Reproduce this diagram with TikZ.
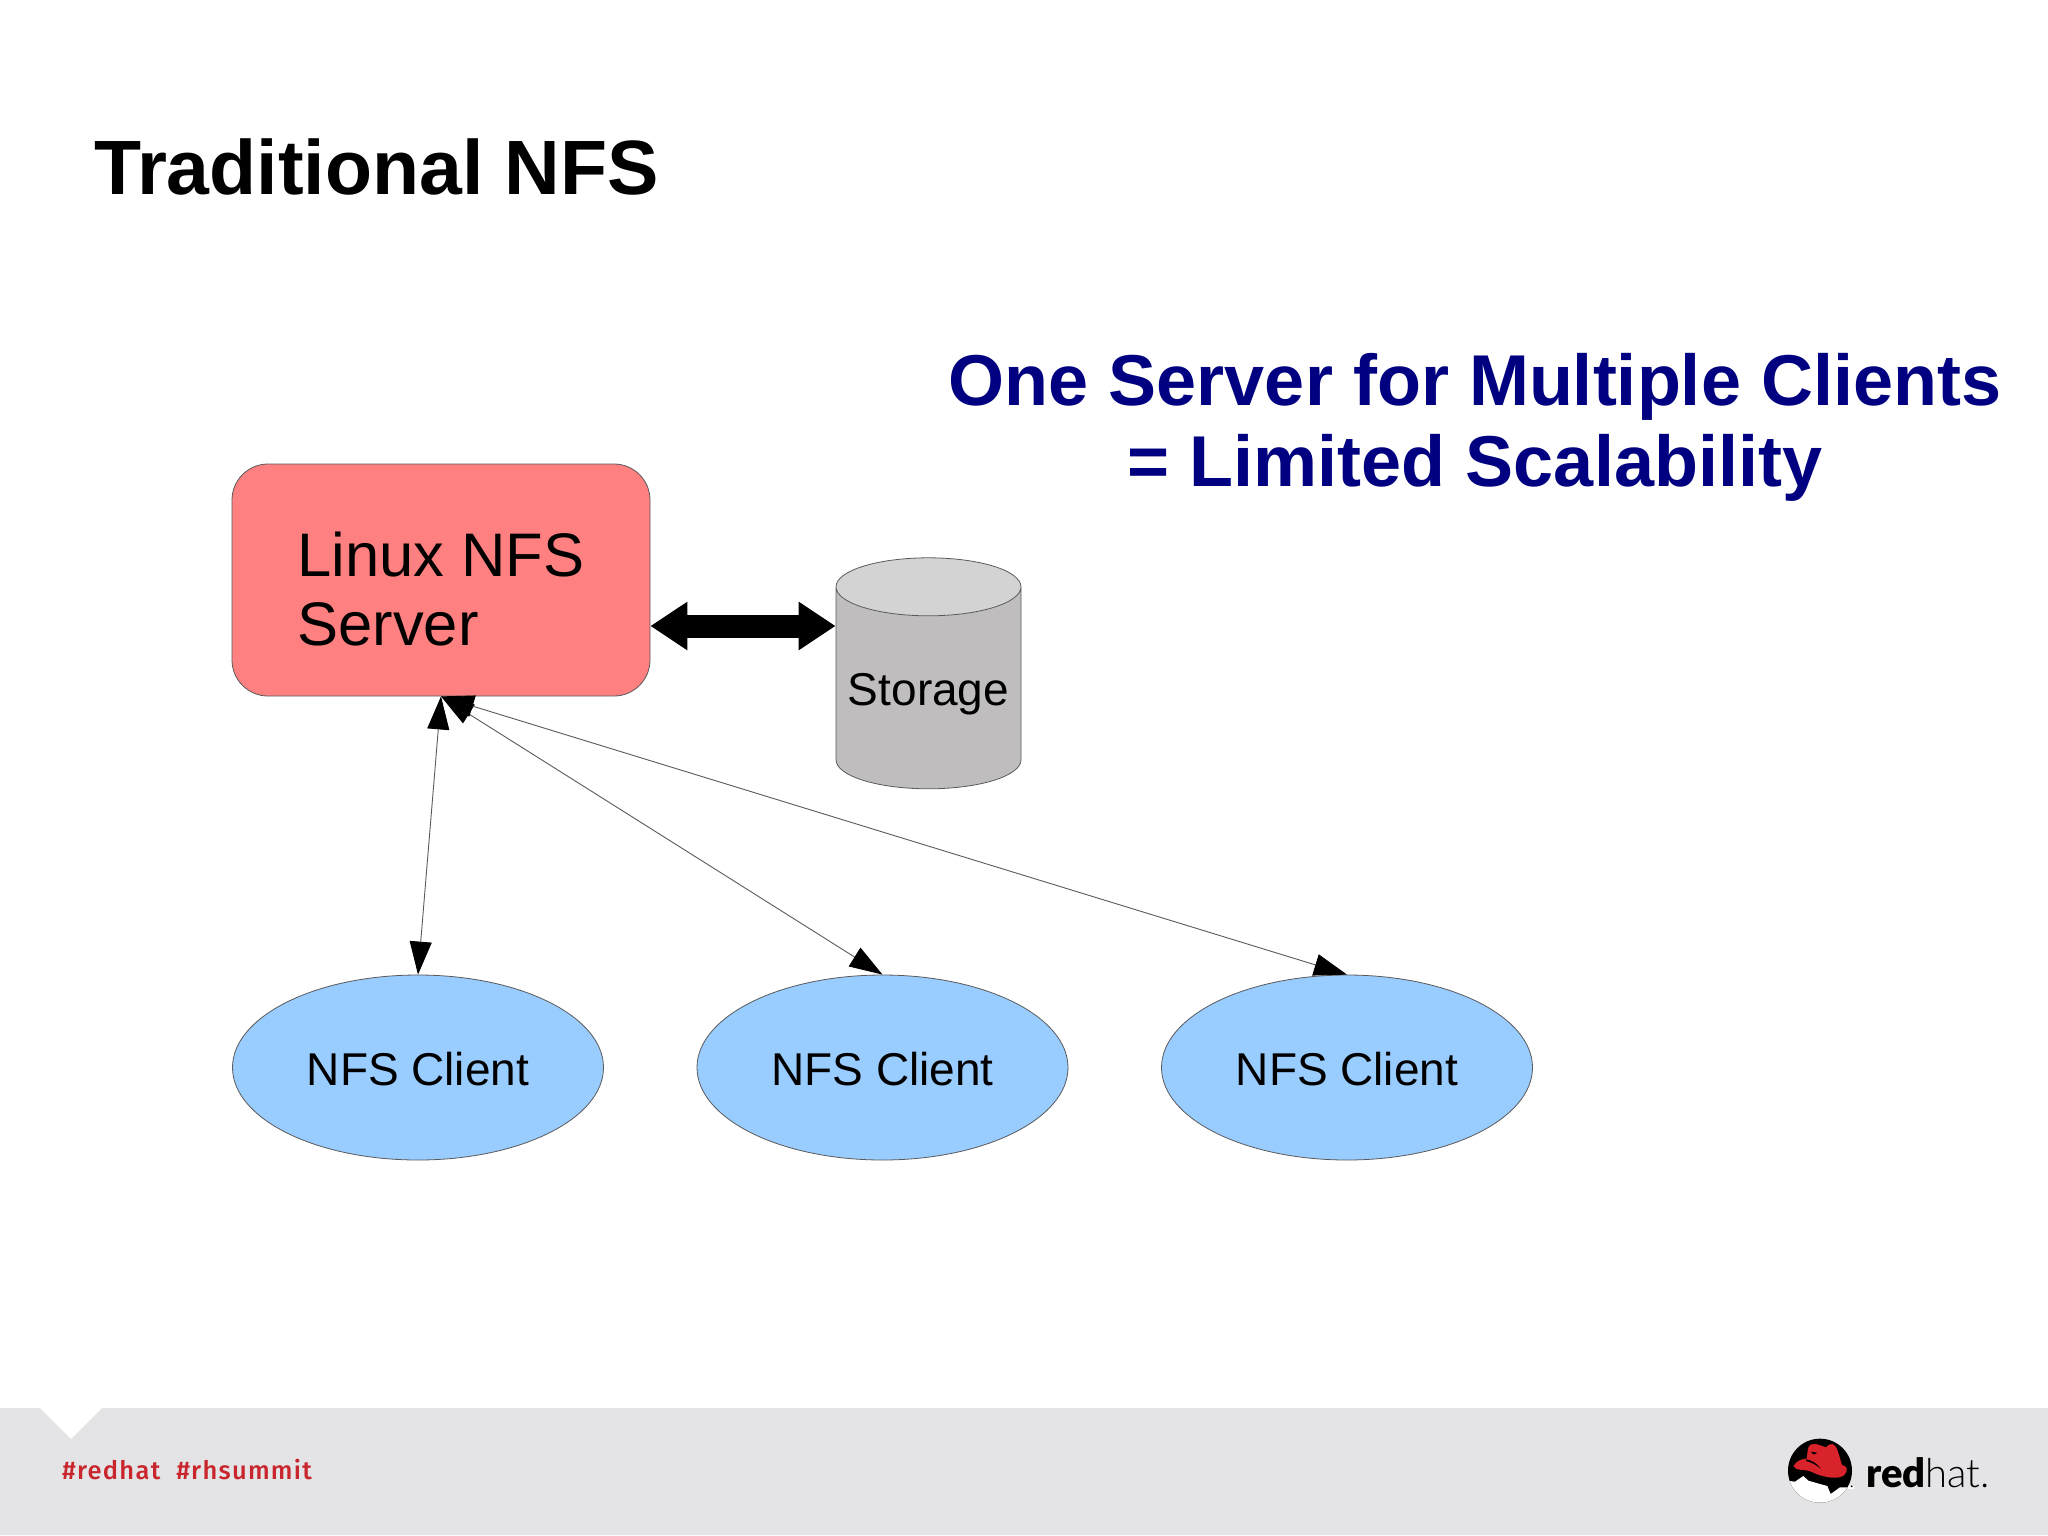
\documentclass[tikz,border=0pt]{standalone}
\usepackage{fontspec}
\setmainfont{Liberation Sans}
\newfontfamily\tagfont[LetterSpace=5]{Fira Sans Medium}
\newfontfamily\logofont[BoldFont={Lato Black}]{Lato Light}
\usetikzlibrary{shapes.geometric}
\usetikzlibrary{arrows.meta}
\usetikzlibrary{positioning}
\definecolor{serverred}{HTML}{FF8080}
\definecolor{clientblue}{HTML}{99CCFF}
\definecolor{diskbody}{HTML}{BFBDBD}
\definecolor{disktop}{HTML}{D4D3D3}
\definecolor{edgegrey}{HTML}{5A5A5A}
\definecolor{navyhead}{HTML}{000080}
\definecolor{footgrey}{HTML}{E4E4E6}
\definecolor{tagred}{HTML}{C9252D}
\definecolor{hatred}{HTML}{D8232A}
\tikzset{
  server/.style={draw=edgegrey, line width=0.8pt, fill=serverred, rounded corners=36pt,
    minimum width=418pt, minimum height=232pt, align=left, font=\fontsize{61.5}{69}\selectfont},
  client/.style={draw=edgegrey, line width=0.8pt, fill=clientblue, ellipse, inner sep=0pt,
    minimum width=371pt, minimum height=185pt, font=\fontsize{46}{53}\selectfont},
  disk/.style={draw=edgegrey, line width=0.8pt, cylinder, shape border rotate=90, aspect=0.36,
    cylinder uses custom fill, cylinder body fill=diskbody, cylinder end fill=disktop,
    inner sep=0pt, minimum width=185pt, minimum height=231pt, font=\fontsize{46}{53}\selectfont},
  link/.style={edgegrey, line width=0.9pt, {Triangle[length=33pt,width=22pt,color=black]}-{Triangle[length=33pt,width=22pt,color=black]}},
  biglink/.style={black, line width=23pt, {Triangle[length=37pt,width=46pt]}-{Triangle[length=37pt,width=46pt]}},
}
\begin{document}
\begin{tikzpicture}[x=1pt,y=-1pt]
\useasboundingbox (0,0) rectangle (2048,1535);
% footer
\fill[footgrey] (0,1408) -- (40,1408) -- (71,1439) -- (102,1408) -- (2048,1408) -- (2048,1535) -- (0,1535) -- cycle;
\node[anchor=base west, inner sep=0pt, text=tagred, font=\tagfont\fontsize{25.5}{30}\selectfont] (tags) at (62,1479) {\#redhat\hspace{16pt}\#rhsummit};

% titles
\node[anchor=base west, inner sep=0pt, font=\bfseries\fontsize{77}{90}\selectfont] (title) at (94,194) {Traditional NFS};
\node[anchor=base, inner sep=0pt, align=center, text=navyhead, font=\bfseries\fontsize{72}{81}\selectfont] (head) at (1475,486) {One Server for Multiple Clients\\= Limited Scalability};

% nodes
\node[server] (nfsserver) at (441,580) {\rule{0pt}{62pt}Linux NFS\\Server};
\node[disk] (storage) at (928.5,688) {\rule{0pt}{44pt}Storage};
\node[client] (client1) at (418,1067.5) {\rule{0pt}{36pt}NFS Client};
\node[client, right=92.7pt of client1] (client2) {\rule{0pt}{36pt}NFS Client};
\node[client, right=92.7pt of client2] (client3) {\rule{0pt}{36pt}NFS Client};
\coordinate (bigy) at (0,626);

% connectors
\draw[biglink] (nfsserver.east |- bigy) -- (storage.west |- bigy);
\draw[link] (nfsserver.south) -- (client1.north);
\draw[link] (nfsserver.south) -- (client2.north);
\draw[link] (nfsserver.south) -- (client3.north);

% logo
\begin{scope}[shift={(1740,1410)},x=0.3333pt,y=-0.3333pt]
\fill[black] (240,182) circle (96);
\begin{scope}
\clip (240,182) circle (96);
\fill[white] (140,212) -- (165,215) -- (190,198) -- (205,212) -- (240,222) -- (262,228) -- (272,252) -- (300,232) -- (345,232) -- (345,290) -- (140,290) -- cycle;
\end{scope}
\fill[hatred] (160,168) .. controls (170,150) and (190,146) .. (200,146) -- (204,115) .. controls (212,92) and (235,104) .. (258,112) .. controls (272,96) and (285,98) .. (294,125) -- (306,165) .. controls (322,168) and (326,180) .. (312,196) .. controls (290,212) and (240,198) .. (220,188) .. controls (195,174) and (168,186) .. (160,168) -- cycle;
\fill[black] (198,148) .. controls (212,150) and (230,158) .. (242,176) .. controls (225,162) and (212,156) .. (198,153) -- cycle;
\fill[black] (212,125) -- (232,128) -- (222,134) -- cycle;
\fill[white] (325,228) rectangle (342,236);
\fill[black] (335,229) circle (3);
\end{scope}
\node[anchor=base west, inner sep=0pt, font=\logofont\fontsize{40}{44}\selectfont] (logotext) at (1866,1487) {\textbf{red}hat.};
\end{tikzpicture}
\end{document}
